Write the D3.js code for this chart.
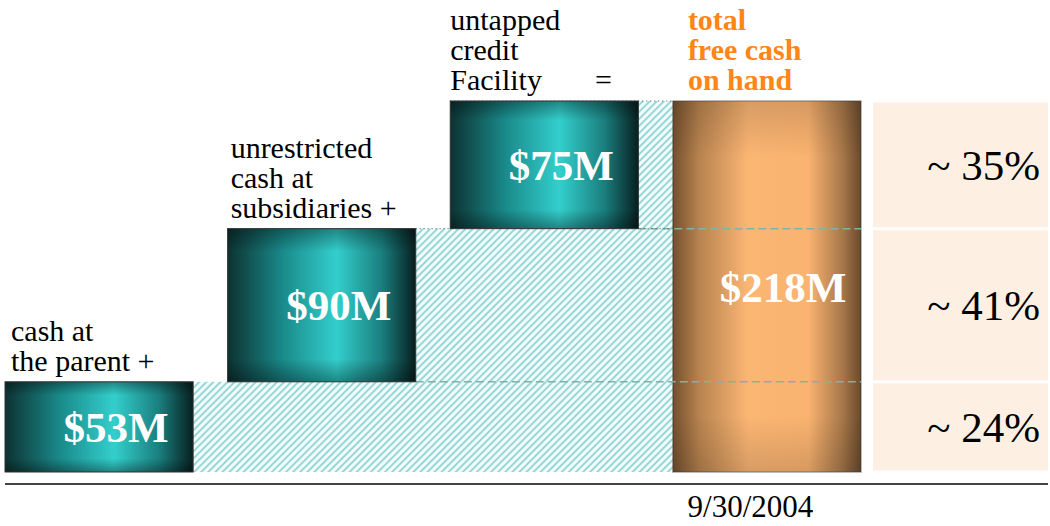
<!DOCTYPE html>
<html>
<head>
<meta charset="utf-8">
<script src="https://cdn.jsdelivr.net/npm/d3@7"></script>
<style>
  body { margin: 0; background: #fff; }
  svg { display: block; font-family: "Liberation Serif", "DejaVu Serif", serif; }
</style>
</head>
<body>
<div id="chart"></div>
<script>
// components of free cash, $M
const labels = [
    ['cash at', 'the parent +'],
    ['unrestricted', 'cash at', 'subsidiaries +'],
    ['untapped', 'credit', 'Facility']
];
const values = [53, 90, 75];
const valueLabels = ['$53M', '$90M', '$75M'];
const totalLabel = ['total', 'free cash', 'on hand'];
const totalValue = 218;
const totalValueLabel = '$218M';
const shares = ['~ 24%', '~ 41%', '~ 35%'];
const dateLabel = '9/30/2004';

const width = 1050;
const height = 526;

const svg = d3.select('#chart')
    .append('svg')
    .attr('width', width)
    .attr('height', height);

const defs = svg.append('defs');

// teal cylinder gradient
const teal = defs.append('linearGradient').attr('id', 'teal');
[[0, '#0d3232'], [0.3, '#1a8c8c'], [0.58, '#33cfcc'], [0.82, '#1a7e7e'], [1, '#071f1f']]
    .forEach(s => teal.append('stop').attr('offset', s[0]).attr('stop-color', s[1]));

const orange = defs.append('linearGradient').attr('id', 'orange');
[[0, '#74502f'], [0.14, '#b8834f'], [0.4, '#fbb674'], [0.72, '#fab370'], [0.9, '#a8784a'], [1, '#6a4a2c']]
    .forEach(s => orange.append('stop').attr('offset', s[0]).attr('stop-color', s[1]));

// darken top and bottom edges
const shade = defs.append('linearGradient').attr('id', 'shade')
    .attr('x1', 0).attr('x2', 0).attr('y1', 0).attr('y2', 1);
[[0, 0.35], [0.15, 0], [0.85, 0], [1, 0.35]]
    .forEach(s => shade.append('stop').attr('offset', s[0]).attr('stop-color', '#000').attr('stop-opacity', s[1]));

const hatch = defs.append('pattern').attr('id', 'hatch')
    .attr('patternUnits', 'userSpaceOnUse')
    .attr('width', 5).attr('height', 5)
    .attr('patternTransform', 'rotate(45)');
hatch.append('rect').attr('width', 5).attr('height', 5).attr('fill', '#f4fbfb');
hatch.append('line').attr('x1', 1).attr('x2', 1).attr('y1', 0).attr('y2', 5)
    .attr('stroke', '#7fcfcf').attr('stroke-width', 1.6);

// scales
const cols = ['parent', 'subs', 'credit', 'total'];
const x = d3.scaleBand()
    .domain(cols)
    .range([5, 861])
    .paddingInner(0.155);

const y = d3.scaleLinear()
    .domain([0, totalValue])
    .range([472, 101]);

const cum = [];
values.reduce((acc, v, i) => { cum[i] = [acc, acc + v]; return acc + v; }, 0);

const totalX = x('total');

// hatched fill between each bar and the total bar
svg.selectAll('.hatch')
    .data(cum)
    .enter().append('rect')
    .attr('x', (d, i) => x(cols[i]) + x.bandwidth())
    .attr('y', d => y(d[1]))
    .attr('width', (d, i) => totalX - x(cols[i]) - x.bandwidth())
    .attr('height', d => y(d[0]) - y(d[1]))
    .attr('fill', 'url(#hatch)');

// right panel with shares
svg.selectAll('.panel')
    .data(cum)
    .enter().append('rect')
    .attr('x', 873)
    .attr('y', d => y(d[1]) + 1.5)
    .attr('width', 175)
    .attr('height', d => y(d[0]) - y(d[1]) - 3)
    .attr('fill', '#fdf0e3');

svg.selectAll('.share')
    .data(shares)
    .enter().append('text')
    .attr('x', 1040)
    .attr('y', (d, i) => (y(cum[i][0]) + y(cum[i][1])) / 2 + 15)
    .attr('text-anchor', 'end')
    .style('font-size', '43px')
    .text(d => d);

// total bar
svg.append('rect')
    .attr('x', totalX).attr('y', y(totalValue))
    .attr('width', x.bandwidth()).attr('height', y(0) - y(totalValue))
    .attr('fill', 'url(#orange)');
svg.append('rect')
    .attr('x', totalX).attr('y', y(totalValue))
    .attr('width', x.bandwidth()).attr('height', y(0) - y(totalValue))
    .attr('fill', 'url(#shade)').attr('opacity', 0.4)
    .attr('stroke', '#222').attr('stroke-width', 1.5);

// dashed dividers at step boundaries
svg.selectAll('.divider')
    .data(cum.slice(0, 2))
    .enter().append('line')
    .attr('x1', (d, i) => x(cols[i + 1]) + x.bandwidth())
    .attr('x2', totalX + x.bandwidth())
    .attr('y1', d => y(d[1]))
    .attr('y2', d => y(d[1]))
    .attr('stroke', '#7fb3a5')
    .attr('stroke-width', 1.5)
    .attr('stroke-dasharray', '8,4');

// dotted top edges of hatch
svg.selectAll('.dots')
    .data(cum.slice(1))
    .enter().append('line')
    .attr('x1', (d, i) => x(cols[i + 1]))
    .attr('x2', totalX)
    .attr('y1', d => y(d[1]))
    .attr('y2', d => y(d[1]))
    .attr('stroke', '#555')
    .attr('stroke-width', 1)
    .attr('stroke-dasharray', '1,3');

// component bars
const bars = svg.selectAll('.bar')
    .data(cum)
    .enter().append('g');

bars.append('rect')
    .attr('x', (d, i) => x(cols[i]))
    .attr('y', d => y(d[1]))
    .attr('width', x.bandwidth())
    .attr('height', d => y(d[0]) - y(d[1]))
    .attr('fill', 'url(#teal)');

bars.append('rect')
    .attr('x', (d, i) => x(cols[i]))
    .attr('y', d => y(d[1]))
    .attr('width', x.bandwidth())
    .attr('height', d => y(d[0]) - y(d[1]))
    .attr('fill', 'url(#shade)')
    .attr('stroke', '#333').attr('stroke-width', 1);

bars.append('text')
    .attr('x', (d, i) => x(cols[i]) + x.bandwidth() / 2 + 17)
    .attr('y', d => (y(d[0]) + y(d[1])) / 2 + 15)
    .attr('text-anchor', 'middle')
    .attr('fill', '#fff')
    .style('font-size', '43px')
    .style('font-weight', 'bold')
    .text((d, i) => valueLabels[i]);

svg.append('text')
    .attr('x', totalX + x.bandwidth() / 2 + 16)
    .attr('y', (y(cum[1][0]) + y(cum[1][1])) / 2 - 3)
    .attr('text-anchor', 'middle')
    .attr('fill', '#fff')
    .style('font-size', '43px')
    .style('font-weight', 'bold')
    .text(totalValueLabel);

// category labels above each bar, one text per line
labels.forEach((lines, i) => {
    const lx = x(cols[i]) + 6 - i * 3;
    svg.selectAll('.lbl' + i)
        .data(lines)
        .enter().append('text')
        .attr('x', lx)
        .attr('y', (l, j) => y(cum[i][1]) - 11 - (lines.length - 1 - j) * 30)
        .style('font-size', '30px')
        .text(l => l);
});

svg.append('text')
    .attr('x', totalX - 78)
    .attr('y', y(totalValue) - 11)
    .style('font-size', '30px')
    .text('=');

svg.selectAll('.totalLbl')
    .data(totalLabel)
    .enter().append('text')
    .attr('x', totalX + 15)
    .attr('y', (l, j) => y(totalValue) - 71 + j * 30)
    .attr('fill', '#ff8517')
    .style('font-size', '30px')
    .style('font-weight', 'bold')
    .text(l => l);

// baseline axis
const dateX = totalX + x.bandwidth() / 2 - 17;
const xAxis = svg.append('g')
    .attr('transform', 'translate(0,484)')
    .call(d3.axisBottom(d3.scalePoint().domain([dateLabel]).range([dateX, dateX]))
        .tickSize(0).tickPadding(11));
xAxis.select('.domain').attr('d', 'M5,0H1048').attr('stroke', '#444').attr('stroke-width', 2);
xAxis.selectAll('text')
    .style('font-family', '"Liberation Serif", serif')
    .style('font-size', '31px')
    .attr('fill', '#000');
</script>
</body>
</html>
